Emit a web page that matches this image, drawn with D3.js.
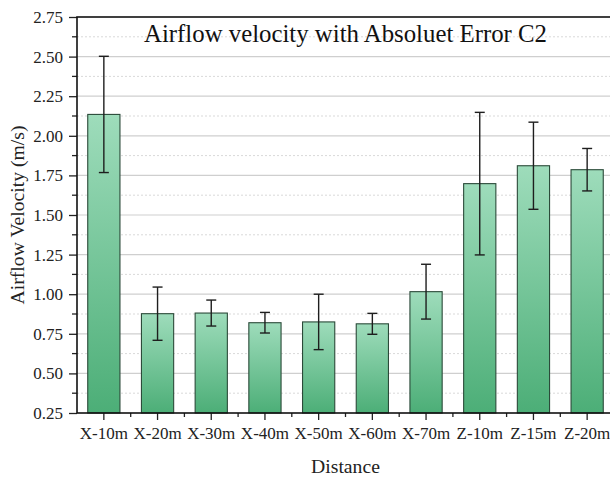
<!DOCTYPE html>
<html>
<head>
<meta charset="utf-8">
<script src="https://cdn.jsdelivr.net/npm/d3@7"></script>
<style>
  html, body { margin: 0; padding: 0; background: #fff; }
  svg text { font-family: "Liberation Serif", "Times New Roman", serif; }
</style>
</head>
<body>
<svg id="chart" width="610" height="478"></svg>
<script>
// Mean airflow velocity per measuring point, with its absolute error
const categories = ["X-10m", "X-20m", "X-30m", "X-40m", "X-50m", "X-60m", "X-70m", "Z-10m", "Z-15m", "Z-20m"];
const velocity = [2.135, 0.877, 0.881, 0.820, 0.825, 0.813, 1.016, 1.698, 1.811, 1.786];
const absError = [0.367, 0.168, 0.082, 0.065, 0.175, 0.066, 0.173, 0.450, 0.275, 0.134];
const yTicks = [0.25, 0.50, 0.75, 1.00, 1.25, 1.50, 1.75, 2.00, 2.25, 2.50, 2.75];

const serif = '"Liberation Serif", "Times New Roman", serif';
const svg = d3.select("#chart");
const plotL = 77, plotR = 614, plotT = 17, plotB = 413;

const x = d3.scaleBand().domain(categories).range([plotL, plotR])
  .paddingInner(0.4).paddingOuter(0.2);
const y = d3.scaleLinear().domain([0.25, 2.75]).range([plotB, plotT]);

// vertical fill gradient, light at the top of each bar, darker at its base
const grad = svg.append("defs").append("linearGradient")
  .attr("id", "barFill").attr("x1", 0).attr("y1", 0).attr("x2", 0).attr("y2", 1);
grad.append("stop").attr("offset", "0%").attr("stop-color", "#9edcbb");
grad.append("stop").attr("offset", "100%").attr("stop-color", "#4cae77");

// minor (dotted) and major (solid) horizontal grid lines
const minorVals = d3.range(0, yTicks.length - 1).map(i => (yTicks[i] + yTicks[i + 1]) / 2);
svg.append("g").selectAll("line").data(minorVals).join("line")
  .attr("x1", plotL).attr("x2", 610)
  .attr("y1", d => y(d)).attr("y2", d => y(d))
  .attr("stroke", "#d9d9d9").attr("stroke-width", 1).attr("stroke-dasharray", "2,2");
svg.append("g").selectAll("line").data(yTicks.slice(1, -1)).join("line")
  .attr("x1", plotL).attr("x2", 610)
  .attr("y1", d => y(d)).attr("y2", d => y(d))
  .attr("stroke", "#cfcfcf").attr("stroke-width", 1.2);

// bars
svg.append("g").selectAll("rect").data(categories).join("rect")
  .attr("x", d => x(d))
  .attr("y", (d, i) => y(velocity[i]))
  .attr("width", x.bandwidth())
  .attr("height", (d, i) => y(0.25) - y(velocity[i]))
  .attr("fill", "url(#barFill)")
  .attr("stroke", "#2b4a39").attr("stroke-width", 1.1);

// error bars
const eb = svg.append("g").attr("stroke", "#1e1e1e").attr("stroke-width", 1.4);
categories.forEach((c, i) => {
  const cx = x(c) + x.bandwidth() / 2;
  const hi = y(velocity[i] + absError[i]);
  const lo = y(velocity[i] - absError[i]);
  eb.append("line").attr("x1", cx).attr("x2", cx).attr("y1", hi).attr("y2", lo);
  eb.append("line").attr("x1", cx - 5).attr("x2", cx + 5).attr("y1", hi).attr("y2", hi);
  eb.append("line").attr("x1", cx - 5).attr("x2", cx + 5).attr("y1", lo).attr("y2", lo);
});

// y axis with major and minor ticks
const yAxis = svg.append("g").attr("transform", `translate(${plotL},0)`)
  .call(d3.axisLeft(y).tickValues(yTicks).tickFormat(d3.format(".2f")).tickSize(8).tickPadding(6));
yAxis.attr("font-family", null).attr("font-size", null);
yAxis.select(".domain").remove();
yAxis.selectAll(".tick line").attr("stroke", "#222").attr("stroke-width", 1.3);
yAxis.selectAll(".tick text").style("font-size", "17px").style("font-family", serif).attr("fill", "#222");
svg.append("g").selectAll("line").data(minorVals).join("line")
  .attr("x1", plotL - 5).attr("x2", plotL)
  .attr("y1", d => y(d)).attr("y2", d => y(d))
  .attr("stroke", "#222").attr("stroke-width", 1.3);

// x axis with ticks at categories and minor ticks between them
const xAxis = svg.append("g").attr("transform", `translate(0,${plotB})`)
  .call(d3.axisBottom(x).tickSize(7).tickPadding(7));
xAxis.attr("font-family", null).attr("font-size", null);
xAxis.select(".domain").remove();
xAxis.selectAll(".tick line").attr("stroke", "#222").attr("stroke-width", 1.3);
xAxis.selectAll(".tick text").style("font-size", "17px").style("font-family", serif).attr("fill", "#222");
svg.append("g").selectAll("line").data(categories.slice(1)).join("line")
  .attr("x1", d => x(d) - x.step() * x.paddingInner() / 2)
  .attr("x2", d => x(d) - x.step() * x.paddingInner() / 2)
  .attr("y1", plotB).attr("y2", plotB + 4)
  .attr("stroke", "#222").attr("stroke-width", 1.3);

// frame
svg.append("rect").attr("x", plotL).attr("y", plotT)
  .attr("width", plotR - plotL).attr("height", plotB - plotT)
  .attr("stroke", "#111").attr("stroke-width", 1.6).attr("fill", "none");

// titles
svg.append("text").attr("x", (plotL + plotR) / 2).attr("y", 42)
  .attr("text-anchor", "middle").style("font-size", "24.8px").style("font-family", serif).attr("fill", "#111")
  .text("Airflow velocity with Absoluet Error C2");
svg.append("text").attr("x", (plotL + plotR) / 2).attr("y", 473)
  .attr("text-anchor", "middle").style("font-size", "19.7px").style("font-family", serif).attr("fill", "#222")
  .text("Distance");
svg.append("text").attr("transform", `translate(24,${(plotT + plotB) / 2}) rotate(-90)`)
  .attr("text-anchor", "middle").style("font-size", "19.7px").style("font-family", serif).attr("fill", "#222")
  .text("Airflow Velocity (m/s)");
</script>
</body>
</html>
